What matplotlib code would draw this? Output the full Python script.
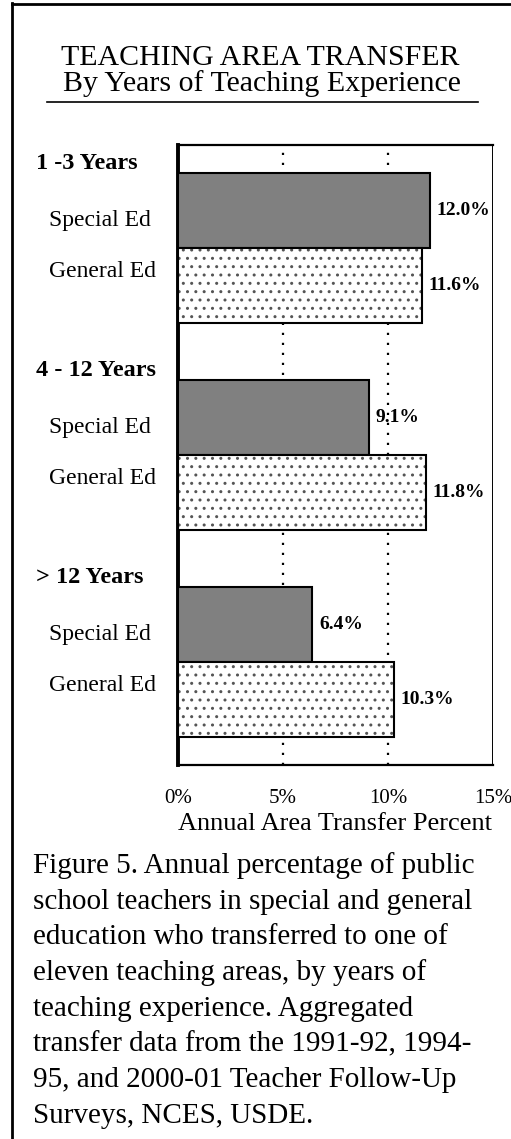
import numpy as np
import matplotlib
matplotlib.use("Agg")
import matplotlib.pyplot as plt
from matplotlib.lines import Line2D

plt.rcParams["font.family"] = ["Liberation Serif", "DejaVu Serif"]
plt.rcParams["hatch.linewidth"] = 1.0

# ---------------------------------------------------------
# Data
# ---------------------------------------------------------
groups = ["1 -3 Years", "4 - 12 Years", "> 12 Years"]
series = ["Special Ed", "General Ed"]
special_ed = [12.0, 9.1, 6.4]
general_ed = [11.6, 11.8, 10.3]
xticks = [0, 5, 10, 15]
xtick_labels = ["0%", "5%", "10%", "15%"]

caption_lines = [
    "Figure 5. Annual percentage of public",
    "school teachers in special and general",
    "education who transferred to one of",
    "eleven teaching areas, by years of",
    "teaching experience. Aggregated",
    "transfer data from the 1991-92, 1994-",
    "95, and 2000-01 Teacher Follow-Up",
    "Surveys, NCES, USDE.",
]

# ---------------------------------------------------------
# Layout (pixel based, figure is 511 x 1139 at dpi 100)
# ---------------------------------------------------------
W, H = 511, 1139
fig = plt.figure(figsize=(W / 100, H / 100), dpi=100)
ax = fig.add_axes([178 / W, 1 - 765 / H, 315 / W, 620 / H])

group_step = 2.76
first_center = 0.873
bar_h = 1.0
spec_y = np.array([first_center + i * group_step for i in range(len(groups))])
gen_y = spec_y + bar_h

# special ed bars: solid gray
ax.barh(spec_y, special_ed, height=bar_h, color="#808080",
        edgecolor="black", linewidth=1.5, zorder=3)
# general ed bars: dotted fill + black outline
ax.barh(gen_y, general_ed, height=bar_h, color="white",
        edgecolor="#555555", hatch="..", linewidth=0, zorder=3)
ax.barh(gen_y, general_ed, height=bar_h, fill=False,
        edgecolor="black", linewidth=1.5, zorder=3.1)

# value labels
for y, v in zip(spec_y, special_ed):
    ax.annotate(f"{v:.1f}%", xy=(v, y), xytext=(4.7, 0), textcoords="offset points",
                va="center", ha="left", fontsize=14, fontweight="bold", zorder=2)
for y, v in zip(gen_y, general_ed):
    ax.annotate(f"{v:.1f}%", xy=(v, y), xytext=(4.7, 0), textcoords="offset points",
                va="center", ha="left", fontsize=14, fontweight="bold", zorder=2)

# dotted reference lines at 5% and 10%, solid at 15%
for xv in [5, 10]:
    ax.axvline(xv, color="black", linewidth=1.6, linestyle=(0, (1, 3.5)), zorder=2.5)
ax.axvline(15, color="black", linewidth=1.4, zorder=2.5)

# group / category labels on the left
trans = ax.get_yaxis_transform()
for i, g in enumerate(groups):
    ax.text(-0.451, spec_y[i] - 0.55, g, transform=trans, ha="left", va="baseline",
            fontsize=17.5, fontweight="bold", clip_on=False)
    ax.text(-0.4095, spec_y[i] + 0.13, series[0], transform=trans, ha="left",
            va="center", fontsize=17, clip_on=False)
    ax.text(-0.4095, gen_y[i] - 0.18, series[1], transform=trans, ha="left",
            va="center", fontsize=17, clip_on=False)

ax.set_xlim(0, 15)
ax.set_ylim(620 / 75, 0)
ax.set_yticks([])
ax.set_xticks(xticks)
ax.set_xticklabels(xtick_labels, fontsize=15)
ax.set_xticks([0, 15], minor=True)
ax.tick_params(axis="x", which="major", length=0, pad=17)
ax.tick_params(axis="x", which="minor", length=6, width=1.5, direction="out")
ax.set_xlabel("Annual Area Transfer Percent", fontsize=19, labelpad=4)

ax.spines["left"].set_linewidth(2.8)
ax.spines["top"].set_linewidth(1.6)
ax.spines["bottom"].set_linewidth(1.6)
ax.spines["right"].set_visible(False)

# title
fig.text(260 / W, 1 - 65 / H, "TEACHING AREA TRANSFER", ha="center",
         va="baseline", fontsize=21.5)
fig.text(262 / W, 1 - 91 / H, "By Years of Teaching Experience", ha="center",
         va="baseline", fontsize=21.5)
fig.add_artist(Line2D([47 / W, 478 / W], [1 - 102 / H] * 2,
                      transform=fig.transFigure, color="black", linewidth=1.2))

# caption
for k, line in enumerate(caption_lines):
    fig.text(33 / W, 1 - (873 + k * 35.7) / H, line, ha="left", va="baseline",
             fontsize=21)

# outer frame (left and top edges)
fig.add_artist(Line2D([11.5 / W, 11.5 / W], [0, 1 - 3 / H],
                      transform=fig.transFigure, color="black", linewidth=2))
fig.add_artist(Line2D([11.5 / W, 1], [1 - 3.5 / H] * 2,
                      transform=fig.transFigure, color="black", linewidth=2))

fig.savefig("out.png", dpi=100)
